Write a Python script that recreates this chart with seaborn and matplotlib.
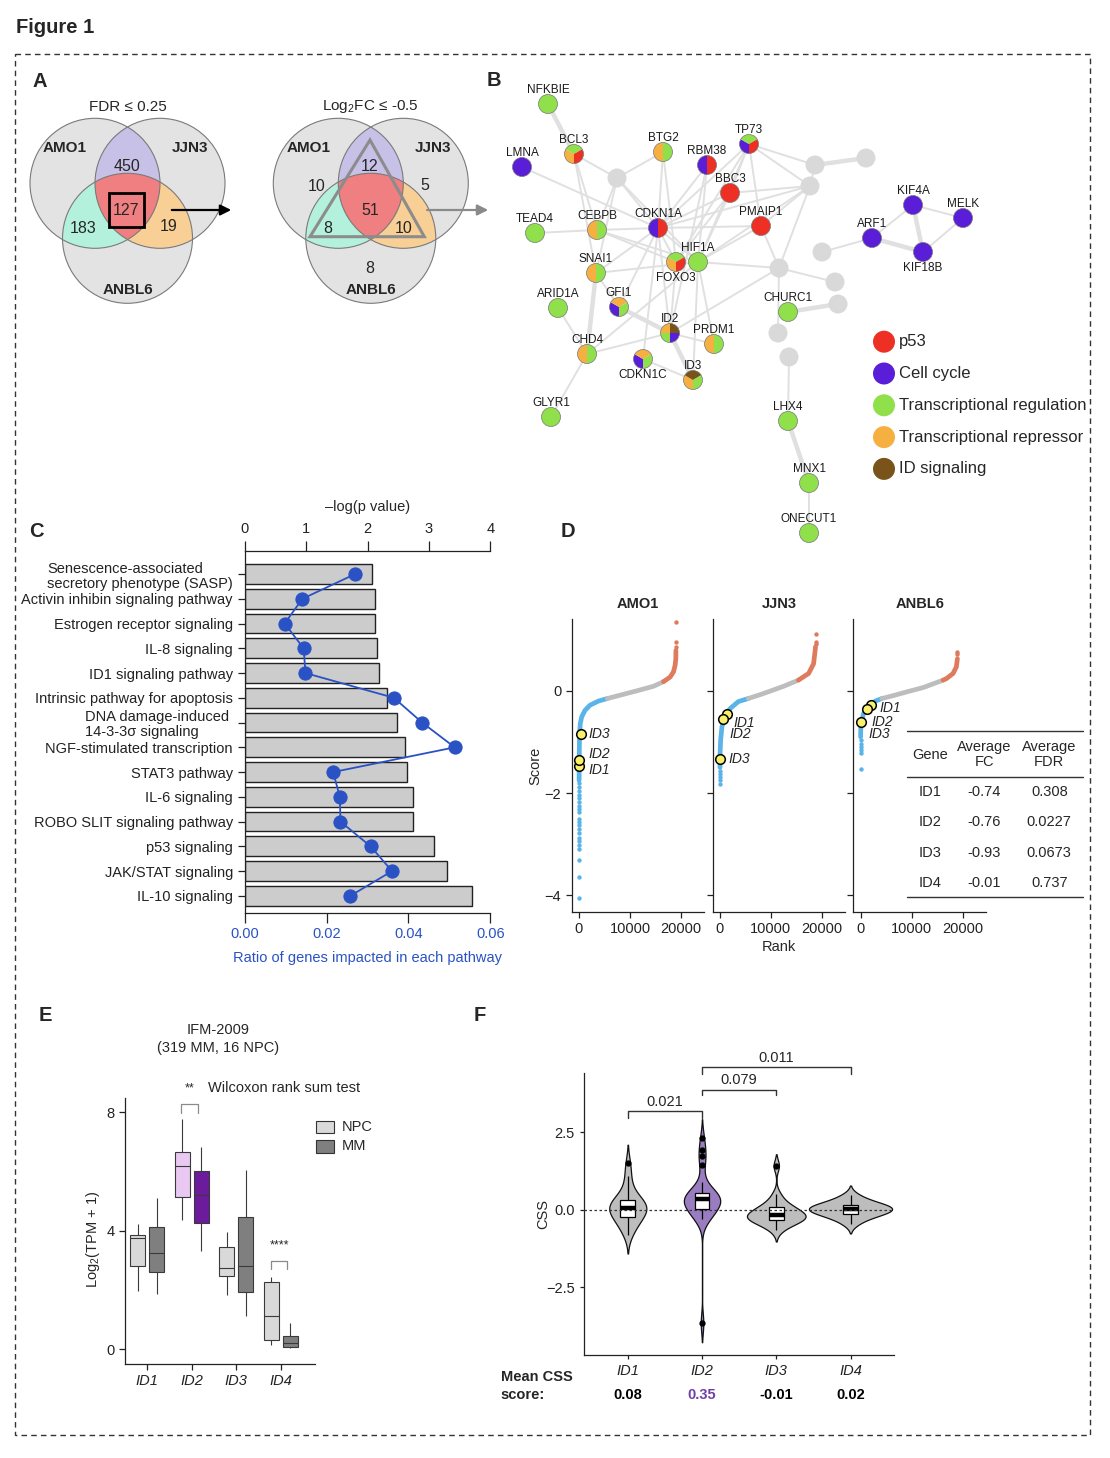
import numpy as np
import pandas as pd
import matplotlib
matplotlib.use("Agg")
import matplotlib.pyplot as plt
import seaborn as sns
from matplotlib.patches import Circle, Wedge, Rectangle, Polygon

# ---------------- data ----------------
# A: Venn region counts -> AMO1 only, JJN3 only, ANBL6 only, AMO1&JJN3, all three, AMO1&ANBL6, JJN3&ANBL6
venn_sets = ["AMO1", "JJN3", "ANBL6"]
venn_fdr = [None, None, None, 450, 127, 183, 19]
venn_fc = [10, 5, 8, 12, 51, 8, 10]

# B: network (layout in pixels, groups per node)
net_genes = ["NFKBIE", "BCL3", "LMNA", "BTG2", "RBM38", "TP73", "BBC3", "PMAIP1", "CDKN1A",
             "CEBPB", "TEAD4", "HIF1A", "FOXO3", "SNAI1", "ARID1A", "GFI1", "ID2", "PRDM1",
             "CHD4", "CDKN1C", "ID3", "GLYR1", "CHURC1", "LHX4", "MNX1", "ONECUT1", "KIF4A",
             "MELK", "ARF1", "KIF18B", "_g1", "_g2", "_g3", "_g4", "_g5", "_g6", "_g7", "_g8",
             "_g9", "_g10"]
net_x = [548, 574, 522, 663, 707, 749, 730, 761, 658, 597, 535, 698, 676, 596, 558, 619, 670,
         714, 587, 643, 693, 551, 788, 788, 809, 809, 913, 963, 872, 923, 617, 815, 866, 810,
         822, 779, 835, 838, 778, 789]
net_y = [104, 154, 167, 152, 165, 144, 193, 226, 228, 230, 233, 262, 262, 273, 308, 307, 333,
         344, 354, 359, 380, 417, 312, 421, 483, 533, 205, 218, 238, 252, 178, 165, 158, 186,
         252, 268, 282, 304, 333, 357]
net_groups = ["t", "rtp", "c", "rt", "cp", "ctp", "p", "p", "cp", "rt", "t", "t", "rtp", "rt",
              "t", "crt", "tric", "rt", "rt", "crt", "rit", "t", "t", "t", "t", "t", "c", "c",
              "c", "c", "", "", "", "", "", "", "", "", "", ""]
net_edges = [("NFKBIE", "BCL3"), ("BCL3", "_g1"), ("BCL3", "CEBPB"), ("BCL3", "SNAI1"),
             ("LMNA", "CDKN1A"), ("BTG2", "_g1"), ("BTG2", "CDKN1A"), ("BTG2", "FOXO3"),
             ("_g1", "CDKN1A"), ("_g1", "CEBPB"), ("_g1", "SNAI1"), ("_g1", "HIF1A"),
             ("RBM38", "CDKN1A"), ("RBM38", "ID2"), ("RBM38", "HIF1A"),
             ("TP73", "CDKN1A"), ("TP73", "BBC3"), ("TP73", "PMAIP1"), ("TP73", "_g4"),
             ("TP73", "_g2"), ("TP73", "HIF1A"), ("TP73", "FOXO3"),
             ("BBC3", "CDKN1A"), ("BBC3", "_g4"), ("BBC3", "HIF1A"), ("BBC3", "FOXO3"),
             ("PMAIP1", "_g4"), ("PMAIP1", "CDKN1A"), ("PMAIP1", "HIF1A"), ("PMAIP1", "_g6"),
             ("CDKN1A", "CEBPB"), ("CDKN1A", "FOXO3"), ("CDKN1A", "HIF1A"), ("CDKN1A", "SNAI1"),
             ("CDKN1A", "CDKN1C"), ("CDKN1A", "ID2"), ("CDKN1A", "_g4"), ("CDKN1A", "GFI1"),
             ("TEAD4", "CEBPB"), ("CEBPB", "HIF1A"), ("CEBPB", "FOXO3"),
             ("SNAI1", "HIF1A"), ("SNAI1", "CHD4"), ("SNAI1", "GFI1"),
             ("HIF1A", "_g6"), ("HIF1A", "ID3"), ("HIF1A", "PRDM1"), ("HIF1A", "_g4"),
             ("FOXO3", "ID2"), ("ARID1A", "CHD4"), ("GFI1", "ID2"), ("ID2", "ID3"),
             ("ID2", "CHD4"), ("ID2", "PRDM1"), ("ID2", "_g6"), ("CHD4", "HIF1A"),
             ("CDKN1C", "ID3"), ("CHD4", "GLYR1"), ("CHURC1", "_g8"), ("_g6", "_g7"),
             ("_g6", "_g4"), ("_g6", "_g9"), ("_g4", "_g2"), ("_g2", "_g3"),
             ("_g5", "ARF1"), ("ARF1", "KIF4A"), ("ARF1", "KIF18B"), ("KIF4A", "KIF18B"),
             ("KIF4A", "MELK"), ("MELK", "KIF18B"), ("_g10", "LHX4"), ("LHX4", "MNX1"),
             ("MNX1", "ONECUT1")]
thick_edges = [("NFKBIE", "BCL3"), ("_g2", "_g3"), ("CHURC1", "_g8"), ("ARF1", "KIF18B"),
               ("KIF4A", "KIF18B"), ("LHX4", "MNX1"), ("ID2", "ID3"), ("GFI1", "ID2"),
               ("SNAI1", "CHD4")]
labels_below = ["FOXO3", "KIF18B", "CDKN1C"]
group_keys = ["p", "c", "t", "r", "i"]
group_names = ["p53", "Cell cycle", "Transcriptional regulation", "Transcriptional repressor",
               "ID signaling"]
group_colors = ["#ee2f23", "#5a1dd8", "#8fe04b", "#f6b042", "#7a531a"]

# C: pathways
pathways = ["Senescence-associated\nsecretory phenotype (SASP)", "Activin inhibin signaling pathway",
            "Estrogen receptor signaling", "IL-8 signaling", "ID1 signaling pathway",
            "Intrinsic pathway for apoptosis", "DNA damage-induced \n14-3-3\u03c3 signaling",
            "NGF-stimulated transcription", "STAT3 pathway", "IL-6 signaling",
            "ROBO SLIT signaling pathway", "p53 signaling", "JAK/STAT signaling", "IL-10 signaling"]
path_ratio = [0.0310, 0.0319, 0.0319, 0.0322, 0.0329, 0.0347, 0.0371, 0.0392, 0.0397, 0.0410,
              0.0412, 0.0463, 0.0494, 0.0555]
path_neglogp = [1.80, 0.94, 0.65, 0.96, 0.99, 2.43, 2.89, 3.42, 1.44, 1.55, 1.56, 2.05, 2.40, 1.72]

# D: rank plots
amo1_rank = [21, 40, 70, 120, 250, 520, 1180, 2160, 3800, 5560, 8040, 11300, 14600, 16550,
             17850, 18500, 18830, 18970, 18990]
amo1_score = [-1.75, -1.40, -1.10, -0.85, -0.64, -0.51, -0.38, -0.28, -0.20, -0.15, -0.085,
              0.0, 0.09, 0.18, 0.27, 0.37, 0.50, 0.63, 0.79]
amo1_cut = [5560, 16550]
amo1_tail_rank = [0, 1, 2, 3, 4, 5, 6, 7, 8, 9, 10, 11, 12, 13, 14, 15, 16, 17, 18, 19, 20]
amo1_tail_score = [-4.05, -3.64, -3.31, -3.10, -3.02, -2.94, -2.87, -2.79, -2.71, -2.63, -2.56,
                   -2.50, -2.36, -2.31, -2.25, -2.17, -2.10, -2.04, -1.95, -1.88, -1.80]
amo1_top_rank = [18995, 18998, 19000]
amo1_top_score = [0.86, 0.96, 1.35]
amo1_id_rank = [65, 65, 330]
amo1_id_score = [-1.46, -1.36, -0.85]

jjn3_rank = [5, 30, 130, 390, 980, 1960, 3600, 5560, 8000, 10000, 12500, 15400, 17400, 18380,
             18700, 18750]
jjn3_score = [-1.50, -1.20, -0.96, -0.70, -0.51, -0.35, -0.21, -0.15, -0.07, 0.0, 0.09, 0.21,
              0.34, 0.53, 0.80, 0.86]
jjn3_cut = [5560, 15400]
jjn3_tail_rank = [0, 1, 2, 3, 4]
jjn3_tail_score = [-1.82, -1.75, -1.68, -1.62, -1.56]
jjn3_top_rank = [18760, 18770, 18780]
jjn3_top_score = [0.92, 0.96, 1.12]
jjn3_id_rank = [1310, 520, 0]
jjn3_id_score = [-0.46, -0.56, -1.33]

anbl6_rank = [6, 20, 60, 300, 590, 1560, 2860, 4160, 6500, 9030, 12260, 16150, 16800, 18100,
              18750, 18950]
anbl6_score = [-0.90, -0.80, -0.70, -0.55, -0.44, -0.28, -0.20, -0.15, -0.09, -0.02, 0.065,
               0.21, 0.24, 0.34, 0.47, 0.63]
anbl6_cut = [4160, 16150]
anbl6_tail_rank = [0, 1, 2, 3, 4, 5]
anbl6_tail_score = [-1.52, -1.22, -1.16, -1.09, -1.03, -0.96]
anbl6_top_rank = [18960, 18970]
anbl6_top_score = [0.72, 0.76]
anbl6_id_rank = [2080, 1240, 140]
anbl6_id_score = [-0.28, -0.35, -0.61]

id_names = ["ID1", "ID2", "ID3"]
table_genes = ["ID1", "ID2", "ID3", "ID4"]
table_fc = ["-0.74", "-0.76", "-0.93", "-0.01"]
table_fdr = ["0.308", "0.0227", "0.0673", "0.737"]

# E: five-number summaries (low, q1, median, q3, high) of log2(TPM+1)
e_genes = ["ID1", "ID2", "ID3", "ID4"]
npc_five = [[1.97, 2.82, 3.75, 3.86, 4.22], [4.36, 5.13, 6.18, 6.67, 7.76],
            [1.84, 2.46, 2.74, 3.44, 3.95], [0.13, 0.30, 1.11, 2.27, 2.45]]
mm_five = [[1.88, 2.59, 3.26, 4.14, 5.11], [3.30, 4.27, 5.19, 6.00, 6.82],
           [1.11, 1.92, 2.82, 4.47, 6.04], [0.03, 0.09, 0.22, 0.46, 0.87]]

# F: CSS values
f_genes = ["ID1", "ID2", "ID3", "ID4"]
css_id1 = [-0.80, -0.60, -0.45, -0.35, -0.28, -0.20, -0.10, -0.02, 0.03, 0.05, 0.08, 0.12,
           0.18, 0.25, 0.30, 0.35, 0.50, 0.75, 1.10, 1.50]
css_id2 = [-3.65, -0.30, -0.22, -0.15, -0.08, -0.02, 0.02, 0.12, 0.20, 0.26, 0.30, 0.33, 0.35,
           0.37, 0.40, 0.44, 0.48, 0.52, 0.54, 0.60, 0.90, 1.45, 1.74, 1.93, 2.31]
css_id3 = [-0.65, -0.50, -0.42, -0.38, -0.34, -0.30, -0.27, -0.23, -0.20, -0.17, -0.15, -0.12,
           -0.07, -0.02, 0.08, 0.10, 0.15, 0.30, 0.50, 1.43]
css_id4 = [-0.45, -0.32, -0.22, -0.17, -0.13, -0.10, -0.06, -0.02, 0.01, 0.03, 0.05, 0.08,
           0.11, 0.15, 0.17, 0.20, 0.28, 0.36, 0.48]
css_mean = ["0.08", "0.35", "-0.01", "0.02"]
css_pvals = ["0.021", "0.079", "0.011"]

# ---------------- style ----------------
sns.set_theme(style="ticks")
plt.rcParams["font.family"] = ["Liberation Sans", "DejaVu Sans"]
plt.rcParams["mathtext.fontset"] = "custom"
plt.rcParams["mathtext.rm"] = "Liberation Sans"
plt.rcParams["mathtext.it"] = "Liberation Sans:italic"
plt.rcParams["axes.linewidth"] = 0.9
plt.rcParams["axes.edgecolor"] = "#222222"
plt.rcParams["xtick.major.width"] = 0.9
plt.rcParams["ytick.major.width"] = 0.9
plt.rcParams["xtick.color"] = "#222222"
plt.rcParams["ytick.color"] = "#222222"

W, H = 1110, 1458
fig = plt.figure(figsize=(W / 100, H / 100), dpi=100)
fig.patch.set_facecolor("white")


def px_axes(x0, y0, x1, y1):
    # axes placed by pixel box (top-left origin)
    return fig.add_axes([x0 / W, 1 - y1 / H, (x1 - x0) / W, (y1 - y0) / H])


# ---------------- C: bars + line ----------------
BLUE_C = "#2a52c4"
ax_c = px_axes(244.7, 551, 490.3, 912.7)
sns.barplot(x=path_ratio, y=pathways, orient="h", color="#cccccc", edgecolor="#222222",
            linewidth=1.0, width=0.8, saturation=1, ax=ax_c)
ypos = list(ax_c.get_yticks())
ax_c.set_yticks(ypos)
ax_c.set_yticklabels(pathways, fontsize=10.5, multialignment="left", linespacing=1.12)
ax_c.set_xlim(0, 0.06)
ax_c.set_ylim(13.68, -0.93)
ax_c.set_xticks([0, 0.02, 0.04, 0.06])
ax_c.set_xticklabels(["0.00", "0.02", "0.04", "0.06"])
ax_c.tick_params(axis="x", labelcolor=BLUE_C, labelsize=10.5, length=7)
ax_c.tick_params(axis="y", length=5)
ax_c.set_xlabel("")
ax_c.set_ylabel("")
for s in ["top", "right"]:
    ax_c.spines[s].set_visible(False)

ax_t = ax_c.twiny()
sns.lineplot(x=path_neglogp, y=ypos, sort=False, estimator=None, color=BLUE_C, lw=1.3,
             marker="o", markersize=9.5, markeredgecolor=BLUE_C, ax=ax_t)
ax_t.set_xlim(0, 4)
ax_t.set_ylim(13.68, -0.93)
ax_t.set_xticks([0, 1, 2, 3, 4])
ax_t.tick_params(axis="x", labelsize=10.5, length=7)
for s in ["bottom", "left", "right"]:
    ax_t.spines[s].set_visible(False)
ax_t.set_xlabel("")
ax_t.set_ylabel("")

# ---------------- D: rank plots ----------------
BLUE_D, GREY_D, RED_D = "#5ab4e8", "#bdbdbd", "#e07a5c"
d_data = [
    ("AMO1", amo1_rank, amo1_score, amo1_cut, amo1_tail_rank, amo1_tail_score, amo1_top_rank,
     amo1_top_score, amo1_id_rank, amo1_id_score, [(9, -4), (9, 6), (7.6, 0)]),
    ("JJN3", jjn3_rank, jjn3_score, jjn3_cut, jjn3_tail_rank, jjn3_tail_score, jjn3_top_rank,
     jjn3_top_score, jjn3_id_rank, jjn3_id_score, [(7, -8.5), (7.3, -14.7), (8.3, 0)]),
    ("ANBL6", anbl6_rank, anbl6_score, anbl6_cut, anbl6_tail_rank, anbl6_tail_score,
     anbl6_top_rank, anbl6_top_score, anbl6_id_rank, anbl6_id_score,
     [(8.3, -3.3), (5, -13), (7.3, -12)]),
]
d_boxes = [(571.7, 704.3), (712.7, 845.0), (853.3, 986.0)]
for i, (name, rk, sc, cut, tr, ts, ur, us, ir, isc, offs) in enumerate(d_data):
    ax = px_axes(d_boxes[i][0], 619.3, d_boxes[i][1], 911.7)
    df = pd.DataFrame({"rank": rk, "score": sc})
    lo, hi = cut
    dd = pd.concat([df[df["rank"] <= lo].assign(seg="down"),
                    df[(df["rank"] >= lo) & (df["rank"] <= hi)].assign(seg="ns"),
                    df[df["rank"] >= hi].assign(seg="up")])
    sns.lineplot(data=dd, x="rank", y="score", hue="seg",
                 palette={"down": BLUE_D, "ns": GREY_D, "up": RED_D}, sort=False,
                 estimator=None, lw=3.4, legend=False, ax=ax)
    sns.scatterplot(x=tr, y=ts, color=BLUE_D, s=10, linewidth=0, ax=ax)
    sns.scatterplot(x=ur, y=us, color=RED_D, s=10, linewidth=0, ax=ax)
    sns.scatterplot(x=ir, y=isc, color="#f9f16b", edgecolor="black", linewidth=1.1, s=48,
                    zorder=5, ax=ax)
    for lab, r_, s_, (dx, dy) in zip(id_names, ir, isc, offs):
        ax.annotate(lab, (r_, s_), xytext=(dx, dy), textcoords="offset pixels", ha="left",
                    va="center", fontsize=10, style="italic")
    ax.set_xlim(-1430, 24550)
    ax.set_ylim(-4.32, 1.40)
    ax.set_xticks([0, 10000, 20000])
    ax.set_yticks([-4, -2, 0])
    if i > 0:
        ax.set_yticklabels([])
        ax.set_ylabel("")
    else:
        ax.set_ylabel("Score", fontsize=10.5)
        ax.yaxis.set_label_coords(-0.22, 0.5)
    ax.set_xlabel("")
    ax.tick_params(labelsize=10.5, length=4)
    sns.despine(ax=ax)
    ax.set_title(name, fontweight="bold", fontsize=10.5, pad=8)

# ---------------- E: box plots ----------------
rows = []
for g, n5, m5 in zip(e_genes, npc_five, mm_five):
    rows += [(g, "NPC", v) for v in n5]
    rows += [(g, "MM", v) for v in m5]
df_e = pd.DataFrame(rows, columns=["gene", "group", "value"])
ax_e = px_axes(125, 1098.3, 315, 1364)
sns.boxplot(data=df_e, x="gene", y="value", hue="group", hue_order=["NPC", "MM"],
            palette={"NPC": "#d9d9d9", "MM": "#7f7f7f"}, whis=(0, 100), width=0.84, gap=0.2,
            linecolor="#3a3a3a", linewidth=0.8, showcaps=False, saturation=1, legend=False,
            ax=ax_e)
for p in ax_e.patches:
    v = p.get_path().vertices[:, 0]
    cx = (v.min() + v.max()) / 2
    if 0.6 < cx < 1.0:
        p.set_facecolor("#e9c9f2")
    elif 1.0 < cx < 1.4:
        p.set_facecolor("#6c1b9c")
ax_e.set_xlim(-0.5, 3.77)
ax_e.set_ylim(-0.5, 8.47)
ax_e.set_yticks([0, 4, 8])
ax_e.set_xlabel("")
ax_e.set_ylabel("Log$_2$(TPM + 1)", fontsize=10.5)
ax_e.yaxis.set_label_coords(-0.12, 0.47)
ax_e.tick_params(labelsize=10.5, length=4)
for t in ax_e.get_xticklabels():
    t.set_style("italic")
sns.despine(ax=ax_e)
BR = "#8a8a8a"
ax_e.plot([0.76, 0.76, 1.13, 1.13], [7.96, 8.27, 8.27, 7.96], color=BR, lw=0.9, clip_on=False)
ax_e.plot([2.77, 2.77, 3.15, 3.15], [2.70, 2.99, 2.99, 2.70], color=BR, lw=0.9, clip_on=False)

# ---------------- F: violins ----------------
css_lists = [css_id1, css_id2, css_id3, css_id4]
v_colors = ["#bdbdbd", "#9a7cc1", "#bdbdbd", "#bdbdbd"]
v_widths = [0.5, 0.49, 0.79, 1.12]
v_bw = [1.0, 0.55, 0.75, 1.2]
ax_f = px_axes(584, 1073.3, 894.3, 1355.3)
for g, vals, col, w, bw in zip(f_genes, css_lists, v_colors, v_widths, v_bw):
    sns.violinplot(x=[g] * len(vals), y=vals, order=f_genes, color=col, width=w, bw_adjust=bw,
                   cut=2, inner=None, density_norm="width", linewidth=0.9, linecolor="#111111",
                   saturation=1, ax=ax_f)
df_f = pd.DataFrame({"gene": [g for g, v in zip(f_genes, css_lists) for _ in v],
                     "css": [x for v in css_lists for x in v]})
sns.boxplot(data=df_f, x="gene", y="css", order=f_genes, width=0.2, color="white",
            linecolor="black", linewidth=0.9, showcaps=False, saturation=1,
            medianprops=dict(linewidth=3.2),
            flierprops=dict(marker="o", markersize=3.5, markerfacecolor="black",
                            markeredgecolor="black"), ax=ax_f)
ax_f.axhline(0, color="#333333", lw=0.9, ls=(0, (2, 2)), zorder=10)
ax_f.set_xlim(-0.59, 3.59)
ax_f.set_ylim(-4.69, 4.41)
ax_f.set_yticks([-2.5, 0, 2.5])
ax_f.set_xlabel("")
ax_f.set_ylabel("CSS", fontsize=10.5)
ax_f.yaxis.set_label_coords(-0.11, 0.5)
ax_f.tick_params(labelsize=10.5, length=3)
for t in ax_f.get_xticklabels():
    t.set_style("italic")
sns.despine(ax=ax_f)
brackets = [(0, 1, 2.98, 3.19), (1, 2, 3.70, 3.88), (1, 3, 4.40, 4.61)]
for (a, b, y0, y1), lab in zip(brackets, css_pvals):
    ax_f.plot([a, a, b, b], [y0, y1, y1, y0], color="#333333", lw=1.0, clip_on=False)
    ax_f.text((a + b) / 2, y1 + 0.08, lab, ha="center", va="bottom", fontsize=10.5)
for i, m in enumerate(css_mean):
    ax_f.annotate(m, xy=(i, H - 1395), xycoords=("data", "figure pixels"), ha="center",
                  va="center", fontsize=10.5, fontweight="bold",
                  color="#7040a8" if i == 1 else "black", annotation_clip=False)

# ---------------- B: network ----------------
ax_b = px_axes(490, 60, 1100, 560)
ax_b.set_xlim(490, 1100)
ax_b.set_ylim(560, 60)
ax_b.axis("off")
pos = {g: (x, y) for g, x, y in zip(net_genes, net_x, net_y)}
gcol = dict(zip(group_keys, group_colors))
for a, b in net_edges:
    thick = (a, b) in thick_edges
    ax_b.plot([pos[a][0], pos[b][0]], [pos[a][1], pos[b][1]], color="#e0e0e0",
              lw=3.2 if thick else 1.4, zorder=1, solid_capstyle="round")
R = 9.5
for g, grp in zip(net_genes, net_groups):
    x, y = pos[g]
    if not grp:
        ax_b.add_patch(Circle((x, y), R, facecolor="#d9d9d9", edgecolor="none", zorder=2))
        continue
    k = len(grp)
    for j, key in enumerate(grp):
        ax_b.add_patch(Wedge((x, y), R, 90 + j * 360 / k, 90 + (j + 1) * 360 / k,
                             facecolor=gcol[key], edgecolor="none", zorder=3))
    ax_b.add_patch(Circle((x, y), R, facecolor="none", edgecolor="#777777", lw=0.5, zorder=4))
    dy = 16 if g in labels_below else -14
    ax_b.text(x, y + dy, g, ha="center", va="center", fontsize=8.5, color="#1a1a1a", zorder=5)
for j, (nm, col) in enumerate(zip(group_names, group_colors)):
    ly = 341.7 + j * 31.8
    ax_b.add_patch(Circle((884, ly), 11, facecolor=col, edgecolor="none", zorder=3))
    ax_b.text(899, ly, nm, ha="left", va="center", fontsize=12)

# ---------------- overlay: frame, letters, Venn, table ----------------
ov = fig.add_axes([0, 0, 1, 1])
ov.set_xlim(0, W)
ov.set_ylim(H, 0)
ov.axis("off")
ov.patch.set_visible(False)

ov.text(16, 27, "Figure 1", fontsize=14.5, fontweight="bold", ha="left", va="center")
ov.add_patch(Rectangle((15, 53.5), 1075, 1381.5, fill=False, edgecolor="#333333", lw=1.0,
                       ls=(0, (4, 3))))
for letter, x, y in [("A", 40, 81), ("B", 494, 80), ("C", 36, 531.7), ("D", 568.3, 531.7),
                     ("E", 45, 1015), ("F", 479.3, 1015)]:
    ov.text(x, y, letter, fontsize=14.5, fontweight="bold", ha="center", va="center")


def venn_region(centers, r, members):
    t = np.linspace(0, 2 * np.pi, 721)
    pts = []
    for k in members:
        px = centers[k][0] + r * np.cos(t)
        py = centers[k][1] + r * np.sin(t)
        keep = np.ones_like(px, dtype=bool)
        for j in members:
            if j != k:
                keep &= np.hypot(px - centers[j][0], py - centers[j][1]) <= r + 1e-9
        pts.append(np.column_stack([px[keep], py[keep]]))
    pts = np.vstack(pts)
    c = pts.mean(axis=0)
    return pts[np.argsort(np.arctan2(pts[:, 1] - c[1], pts[:, 0] - c[0]))]


def draw_venn(ax, cx, cy, counts, count_pos, title):
    r = 65
    centers = [(cx - 32.5, cy), (cx + 32.5, cy), (cx, cy + 55)]
    for c in centers:
        ax.add_patch(Circle(c, r, facecolor="#e3e3e3", edgecolor="none", zorder=1))
    for members, col in [((0, 1), "#c7c0e7"), ((0, 2), "#b3f1dd"), ((1, 2), "#f8cf95"),
                         ((0, 1, 2), "#ef7f80")]:
        ax.add_patch(Polygon(venn_region(centers, r, members), closed=True, facecolor=col,
                             edgecolor="none", zorder=2))
    for c in centers:
        ax.add_patch(Circle(c, r, facecolor="none", edgecolor="#7a7a7a", lw=0.8, zorder=3))
    for n, p in zip(counts, count_pos):
        if n is not None:
            ax.text(cx + p[0], cy + p[1], str(n), ha="center", va="center", fontsize=11.5,
                    zorder=5)
    for nm, (x, y) in zip(venn_sets, [(cx - 62.5, 148.3), (cx + 62.5, 148.3), (cx, 290)]):
        ax.text(x, y, nm, ha="center", va="center", fontsize=11, fontweight="bold", zorder=5)
    ax.text(cx, 106.7, title, ha="center", va="center", fontsize=11)


pos_fdr = [None, None, None, (-1, -17), (-1, 27), (-44, 45), (41, 43)]
pos_fc = [(-54, 3), (54, 2), (-1, 85), (-1, -17), (-1, 27), (-43, 45), (33, 45)]
draw_venn(ov, 127.5, 183.3, venn_fdr, pos_fdr, "FDR \u2264 0.25")
draw_venn(ov, 370.8, 183.3, venn_fc, pos_fc, "Log$_2$FC \u2264 -0.5")
ov.add_patch(Rectangle((109.3, 193.3), 34.7, 33.4, fill=False, edgecolor="black", lw=2,
                       zorder=6))
ov.add_patch(Polygon([(370, 140), (310, 236.7), (424.3, 236.7)], closed=True, fill=False,
                     edgecolor="#8c8c8c", lw=2.2, zorder=6))
ov.annotate("", xy=(234, 210), xytext=(169, 210),
            arrowprops=dict(arrowstyle="-|>", color="black", lw=1.6, mutation_scale=16))
ov.annotate("", xy=(491, 210), xytext=(424.3, 210),
            arrowprops=dict(arrowstyle="-|>", color="#8a8a8a", lw=1.6, mutation_scale=16))

# C axis titles
ov.text(367.7, 506.7, "\u2013log(p value)", ha="center", va="center", fontsize=10.5)
ov.text(367.7, 958.3, "Ratio of genes impacted in each pathway", ha="center", va="center",
        fontsize=10.5, color=BLUE_C)

# D label + table
ov.text(779.3, 946.7, "Rank", ha="center", va="center", fontsize=10.5)
for y in [731, 777.3, 897.3]:
    ov.plot([906.7, 1083.3], [y, y], color="#333333", lw=1.0)
ov.text(930, 755, "Gene", ha="center", va="center", fontsize=10.5)
ov.text(984.3, 754.5, "Average\nFC", ha="center", va="center", fontsize=10.5, linespacing=1.15)
ov.text(1049.3, 754.5, "Average\nFDR", ha="center", va="center", fontsize=10.5,
        linespacing=1.15)
for y, g, fc, fdr in zip([792.3, 822.3, 852.7, 882.7], table_genes, table_fc, table_fdr):
    ov.text(930, y, g, ha="center", va="center", fontsize=10.5)
    ov.text(984.3, y, fc, ha="center", va="center", fontsize=10.5)
    ov.text(1049.3, y, fdr, ha="center", va="center", fontsize=10.5)

# E titles and legend
ov.text(218.3, 1030, "IFM-2009", ha="center", va="center", fontsize=10.5)
ov.text(218.3, 1048.3, "(319 MM, 16 NPC)", ha="center", va="center", fontsize=10.5)
ov.text(190, 1088.3, "**", ha="center", va="center", fontsize=9)
ov.text(208, 1088.3, "Wilcoxon rank sum test", ha="left", va="center", fontsize=10.5)
ov.text(279.3, 1245, "****", ha="center", va="center", fontsize=9)
for y, lab, col in [(1127, "NPC", "#d9d9d9"), (1146.3, "MM", "#7f7f7f")]:
    ov.add_patch(Rectangle((315.7, y - 6.3), 18.6, 12.6, facecolor=col, edgecolor="#333333",
                           lw=0.8))
    ov.text(341.7, y, lab, ha="left", va="center", fontsize=10.5)

# F row labels
ov.text(500.7, 1376.7, "Mean CSS", ha="left", va="center", fontsize=10.5, fontweight="bold")
ov.text(500.7, 1395, "score:", ha="left", va="center", fontsize=10.5, fontweight="bold")

fig.savefig("out.png", dpi=100, facecolor="white")
